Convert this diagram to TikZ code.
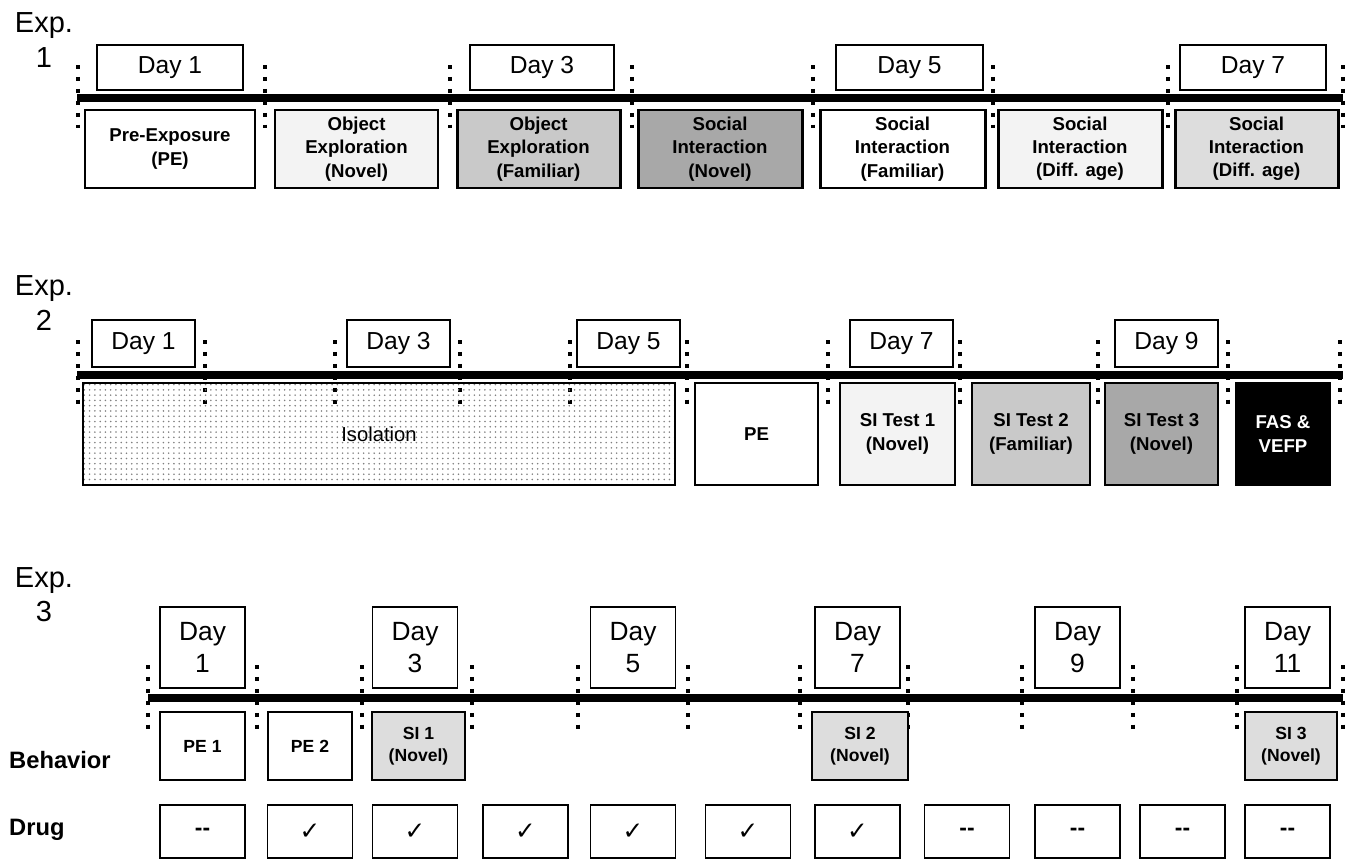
\documentclass[tikz,border=0pt]{standalone}
\usepackage{fontspec}
\setmainfont{Liberation Sans}
\newfontfamily\symfont{DejaVu Sans}
\usetikzlibrary{
    patterns
}
\definecolor{phasevlight}{RGB}{243,243,243}
\definecolor{phaselight}{RGB}{221,221,221}
\definecolor{phasemid}{RGB}{201,201,201}
\definecolor{phasedark}{RGB}{168,168,168}
\newcommand{\nodrug}{-{}-}
\newcommand{\yesdrug}{{\symfont\fontsize{14}{16}\selectfont ✓}}
\tikzset{
    % Box styles
    day box/.style={
        draw,
        line width=1.1pt,
        fill=white,
        inner sep=0pt,
        align=center,
        font=\fontsize{14}{16}\selectfont
    },
    tall day box/.style={
        day box,
        font=\fontsize{15}{18.5}\selectfont
    },
    phase box/.style={
        draw,
        line width=1.7pt,
        inner sep=0pt,
        align=center,
        font=\bfseries\fontsize{10.6}{13.2}\selectfont
    },
    small phase box/.style={
        phase box,
        line width=1.3pt,
        font=\bfseries\fontsize{10}{12.5}\selectfont
    },
    drug box/.style={
        draw,
        line width=1.1pt,
        inner sep=0pt,
        font=\bfseries\fontsize{13}{15}\selectfont
    },
    box size/.style 2 args={
        minimum width=#1*0.02cm,
        minimum height=#2*0.02cm
    },
    % Labels
    exp label/.style={
        align=center,
        font=\fontsize{16.5}{19.5}\selectfont
    },
    row label/.style={
        anchor=west,
        font=\bfseries\fontsize{13.5}{15}\selectfont
    },
    % Line styles
    time bar/.style={
        line width=4pt
    },
    day tick/.style={
        line width=2.3pt,
        dash pattern=on 2.3pt off 4.5pt
    }
}

\begin{document}
\begin{tikzpicture}[x=0.02cm, y=-0.02cm]
    \useasboundingbox (0,0) rectangle (1355,859);

    % ---------------- Exp. 1 ----------------
    \node[exp label] (exp1) at (44,40) {Exp.\\1};

    % Day ticks and time bar
    \foreach \x in {78,265,450,632,813,993,1168,1343} {
        \draw[day tick] (\x,65) -- (\x,128);
    }
    \coordinate (e1start) at (77,98);
    \coordinate (e1end) at (1343,98);
    \draw[time bar] (e1start) -- (e1end);

    % Day boxes
    \foreach \d/\cx/\w in {1/170/146, 3/542/144, 5/909.5/147, 7/1253/146} {
        \node[day box, box size={\w}{45}] (e1day\d) at (\cx,67.5) {Day \d};
    }

    % Phase boxes
    \node[phase box, box size={170}{78}, fill=white] (e1pe) at (170,149) {Pre-Exposure\\(PE)};
    \node[phase box, box size={163}{78}, fill=phasevlight] (e1objnov) at (356.5,149) {Object\\Exploration\\(Novel)};
    \node[phase box, box size={163}{78}, fill=phasemid] (e1objfam) at (538.5,149) {Object\\Exploration\\(Familiar)};
    \node[phase box, box size={164}{78}, fill=phasedark] (e1socnov) at (720,149) {Social\\Interaction\\(Novel)};
    \node[phase box, box size={165}{78}, fill=white] (e1socfam) at (902.5,149) {Social\\Interaction\\(Familiar)};
    \node[phase box, box size={164}{78}, fill=phasevlight] (e1socage) at (1080,149) {Social\\Interaction\\(Diff. age)};
    \node[phase box, box size={163}{78}, fill=phaselight] (e1socagetwo) at (1256.5,149) {Social\\Interaction\\(Diff. age)};

    % ---------------- Exp. 2 ----------------
    \node[exp label] (exp2) at (44,303) {Exp.\\2};

    \foreach \x in {78,205,335,460,570,687,828,960,1098,1228,1340} {
        \draw[day tick] (\x,340) -- (\x,405);
    }
    \coordinate (e2start) at (77,375);
    \coordinate (e2end) at (1343,375);
    \draw[time bar] (e2start) -- (e2end);

    \foreach \d/\cx in {1/143.5, 3/398.5, 5/628.5, 7/901.5, 9/1166.5} {
        \node[day box, box size={103}{47}] (e2day\d) at (\cx,343.5) {Day \d};
    }

    \node[phase box, box size={592}{102}, fill=white, pattern=dots, pattern color=black!50, line width=1.3pt,
        font=\fontsize{11.5}{13}\selectfont] (e2iso) at (379,434) {Isolation};
    \node[phase box, box size={123}{102}, fill=white, line width=1.3pt] (e2pe) at (756.5,434) {PE};
    \node[phase box, box size={115}{102}, fill=phasevlight, line width=1.3pt] (e2sione) at (897.5,434) {SI Test 1\\(Novel)};
    \node[phase box, box size={118}{102}, fill=phasemid, line width=1.3pt] (e2sitwo) at (1031,434) {SI Test 2\\(Familiar)};
    \node[phase box, box size={113}{102}, fill=phasedark, line width=1.3pt] (e2sithree) at (1161.5,434) {SI Test 3\\(Novel)};
    \node[phase box, box size={94}{102}, fill=black, text=white, line width=1.3pt] (e2fas) at (1283,434) {FAS \&\\VEFP};

    % ---------------- Exp. 3 ----------------
    \node[exp label] (exp3) at (44,595) {Exp.\\3};

    \foreach \x in {148,257,362,472,578,688,800,908,1022,1133,1237,1343} {
        \draw[day tick] (\x,665) -- (\x,730);
    }
    \coordinate (e3start) at (148,698);
    \coordinate (e3end) at (1343,698);
    \draw[time bar] (e3start) -- (e3end);

    \foreach \d/\cx in {1/202.5, 3/415, 5/633, 7/857.5, 9/1077.5, 11/1287.5} {
        \node[tall day box, box size={85}{81}] (e3day\d) at (\cx,647.5) {Day\\\d};
    }

    % Behavior row
    \node[row label] (behavior) at (3,760) {Behavior};
    \node[small phase box, box size={85}{68}, fill=white] (e3peone) at (202.5,746) {PE 1};
    \node[small phase box, box size={84}{68}, fill=white] (e3petwo) at (310,746) {PE 2};
    \node[small phase box, box size={93}{68}, fill=phaselight] (e3sione) at (418.5,746) {SI 1\\(Novel)};
    \node[small phase box, box size={96}{68}, fill=phaselight] (e3sitwo) at (860,746) {SI 2\\(Novel)};
    \node[small phase box, box size={92}{68}, fill=phaselight] (e3sithree) at (1291,746) {SI 3\\(Novel)};

    % Drug row
    \node[row label] (drug) at (3,830) {Drug};
    \foreach \i/\cx/\mark in {1/202.5/\nodrug, 2/310/\yesdrug, 3/415/\yesdrug, 4/525.5/\yesdrug,
        5/633/\yesdrug, 6/748/\yesdrug, 7/857.5/\yesdrug, 8/967/\nodrug, 9/1077.5/\nodrug,
        10/1182.5/\nodrug, 11/1287.5/\nodrug} {
        \node[drug box, box size={85}{53}] (e3drug\i) at (\cx,831.5) {\mark};
    }
\end{tikzpicture}
\end{document}
